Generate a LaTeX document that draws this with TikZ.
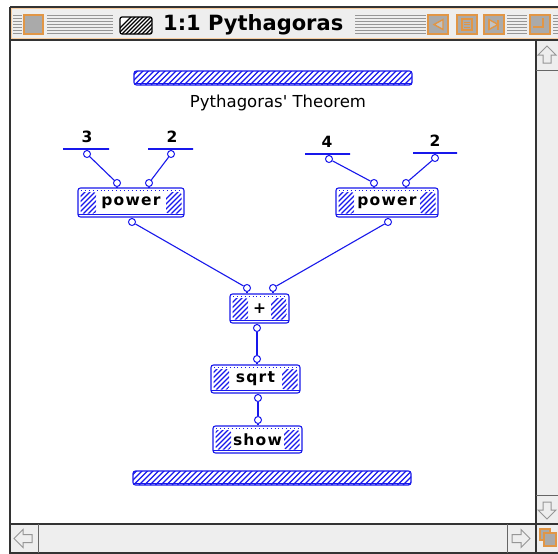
\documentclass[tikz,border=0pt]{standalone}
\usepackage{fontspec}
\setmainfont{DejaVu Sans}
\newfontfamily\boxfont[LetterSpace=8]{DejaVu Sans}
\newfontfamily\genfont[Ligatures=TeXOff]{DejaVu Sans}
\usetikzlibrary{calc}
\definecolor{hblue}{RGB}{24,24,235}
\definecolor{chrome}{RGB}{238,238,238}
\definecolor{macorange}{RGB}{225,150,70}
\definecolor{lightorange}{RGB}{248,205,160}
\definecolor{stripe}{RGB}{150,150,150}
\definecolor{btngray}{RGB}{170,170,170}
\tikzset{
  wire/.style={hblue, line width=1.1pt},
  port/.style={circle, draw=hblue, fill=white, line width=1pt, minimum size=7pt, inner sep=0pt},
  inbar/.style={draw=hblue, line width=1.4pt, minimum width=#1, minimum height=0pt, inner sep=0pt},
  numlbl/.style={font=\boxfont\bfseries\fontsize{15.5}{16}\selectfont, inner sep=0pt},
  opbox/.style={draw=hblue, fill=white, line width=1.1pt, rounded corners=2.5pt,
    minimum width=#1, minimum height=29pt, inner sep=0pt,
    font=\boxfont\bfseries\fontsize{15.5}{16}\selectfont,
    path picture={
      \begin{scope}
        \clip ([shift={(2.5pt,3.5pt)}]path picture bounding box.south west) rectangle ([shift={(18pt,-4pt)}]path picture bounding box.north west);
        \foreach \k in {0,...,9}{\draw[hblue,line width=1.2pt,sharp corners] ([xshift=\k*5pt-28pt]path picture bounding box.south west) -- ++(32pt,32pt);}
      \end{scope}
      \begin{scope}
        \clip ([shift={(-18pt,3.5pt)}]path picture bounding box.south east) rectangle ([shift={(-2.5pt,-4pt)}]path picture bounding box.north east);
        \foreach \k in {0,...,9}{\draw[hblue,line width=1.2pt,sharp corners] ([xshift=\k*5pt-36pt]path picture bounding box.south east) -- ++(32pt,32pt);}
      \end{scope}
      \draw[hblue, line width=0.9pt, dash pattern=on 0.9pt off 3pt, sharp corners] ([shift={(3pt,-2.2pt)}]path picture bounding box.north west) -- ([shift={(-3pt,-2.2pt)}]path picture bounding box.north east);
      \draw[hblue, line width=1.1pt, sharp corners] ([shift={(0pt,2.2pt)}]path picture bounding box.south west) -- ([shift={(0pt,2.2pt)}]path picture bounding box.south east);
    }},
  opbox/.default=90pt,
  hbar/.style={draw=hblue, fill=white, line width=1.1pt, rounded corners=2.5pt,
    minimum width=278pt, minimum height=14pt, inner sep=0pt,
    path picture={
      \foreach \k in {0,...,54}{\draw[hblue,line width=1.2pt,sharp corners] ([xshift=\k*5.5pt-16pt]path picture bounding box.south west) -- ++(18pt,18pt);}
      \draw[hblue, line width=1.3pt, sharp corners] ([shift={(0pt,1.8pt)}]path picture bounding box.south west) -- ([shift={(0pt,1.8pt)}]path picture bounding box.south east);
    }},
  chromebtn/.style={draw=macorange, fill=btngray, line width=1.6pt},
  sbarrow/.style={draw=stripe, fill=chrome, line width=1pt, line join=miter},
  frameline/.style={black!80, line width=1.4pt}
}
\begin{document}
\begin{tikzpicture}[x=1pt,y=-1pt]
\useasboundingbox (0,0) rectangle (558,554);
\fill[white] (0,0) rectangle (558,554);
% ---------- window chrome ----------
\fill[chrome] (10,7) rectangle (558,40);
\draw[lightorange, line width=1.6pt] (11.5,39) -- (11.5,8.5) -- (559,8.5);
\draw[lightorange, line width=1.6pt] (11.5,38.5) -- (559,38.5);
\draw[frameline] (10,7) -- (558,7);
\foreach \yy in {15,18,...,33}{
  \draw[stripe, line width=1pt] (13,\yy) -- (22,\yy) (47,\yy) -- (113,\yy) (355,\yy) -- (426,\yy) (507,\yy) -- (527,\yy) (553,\yy) -- (558,\yy);
}
% close box
\draw[chromebtn] (24,15) rectangle (43,34);
% title icon
\begin{scope}
  \clip[rounded corners=2pt] (120,17) rectangle (152,34);
  \fill[white] (120,17) rectangle (152,34);
  \foreach \k in {0,...,12}{\draw[black, line width=1.1pt] (112+\k*4,36) -- ++(20,-20);}
\end{scope}
\draw[black, line width=1.2pt, rounded corners=2pt] (120,17) rectangle (152,34);
\node[font=\bfseries\fontsize{21}{24}\selectfont, anchor=west, inner sep=0pt] (wintitle) at (163,25) {1:1 Pythagoras};
% title bar buttons
\draw[chromebtn] (428,15) rectangle (448,34);
\draw[macorange, line width=1.4pt, fill=btngray!70] (443,19.5) -- (434,24.5) -- (443,29.5) -- cycle;
\draw[chromebtn] (457,15) rectangle (477,34);
\draw[macorange, line width=1.2pt] (462,19) rectangle (472,30);
\draw[macorange, line width=1pt] (464,22) -- (470,22) (464,24.5) -- (470,24.5) (464,27) -- (470,27);
\draw[chromebtn] (484,15) rectangle (504,34);
\draw[macorange, line width=1.4pt, fill=btngray!70] (489,19.5) -- (498,24.5) -- (489,29.5) -- cycle;
\draw[macorange, line width=1.4pt] (489,19.5) -- (489,29.5) (498,19.5) -- (498,29.5);
\draw[chromebtn] (530,15) rectangle (550,34);
\draw[macorange, line width=1.4pt] (543,18) -- (543,27) -- (533,27);
% content and scroll bars
\fill[chrome] (536,40) rectangle (558,554);
\fill[chrome] (10,524) rectangle (536,554);
\draw[frameline] (10,40) -- (558,40);
\draw[frameline] (10,7) -- (10,554);
\draw[frameline] (536,40) -- (536,554);
\draw[frameline] (10,524) -- (558,524);
\draw[frameline] (10,553) -- (558,553);
\draw[black!60, line width=1pt] (536,70) -- (558,70) (536,495) -- (558,495) (38,524) -- (38,553) (507,524) -- (507,553);
\draw[sbarrow] (547,46) -- (556,55) -- (551,55) -- (551,63) -- (543,63) -- (543,55) -- (538,55) -- cycle;
\draw[sbarrow] (547,519) -- (556,510) -- (551,510) -- (551,502) -- (543,502) -- (543,510) -- (538,510) -- cycle;
\draw[sbarrow] (14,538.5) -- (23,529.5) -- (23,534.5) -- (32,534.5) -- (32,542.5) -- (23,542.5) -- (23,547.5) -- cycle;
\draw[sbarrow] (530,538.5) -- (521,529.5) -- (521,534.5) -- (512,534.5) -- (512,542.5) -- (521,542.5) -- (521,547.5) -- cycle;
\draw[macorange, line width=1.4pt, fill=btngray] (540,529) rectangle (550,540);
\draw[macorange, line width=1.4pt, fill=btngray] (544,533) rectangle (556,546);
% ---------- diagram ----------
\node[hbar] (topbar) at (273,78) {};
\node[font=\genfont\fontsize{16.5}{18}\selectfont, inner sep=0pt] (thm) at (278,103) {Pythagoras' Theorem};
\node[hbar] (botbar) at (272,478) {};
% inputs
\node[inbar=46pt] (in3) at (86,149) {};
\node[numlbl] (t3) at (87,137) {3};
\node[inbar=45pt] (in2a) at (170.5,149) {};
\node[numlbl] (t2a) at (172,137) {2};
\node[inbar=45pt] (in4) at (327.5,154) {};
\node[numlbl] (t4) at (327,142) {4};
\node[inbar=44pt] (in2b) at (435,153) {};
\node[numlbl] (t2b) at (435,141) {2};
% operator boxes
\node[opbox=106pt] (pow1) at (131,202.5) {power};
\node[opbox=102pt] (pow2) at (387,202.5) {power};
\node[opbox=59pt] (plus) at (259.5,308.5) {+};
\node[opbox=89pt, minimum height=28pt] (sqrt) at (255.5,379) {sqrt};
\node[opbox=89pt, minimum height=27pt] (show) at (257.5,439.5) {show};
% ports
\node[port] (p3) at (87,154) {};
\node[port] (p2a) at (171,154) {};
\node[port] (p4) at (329,159) {};
\node[port] (p2b) at (435,158) {};
\node[port] (pw1a) at (117,183) {};
\node[port] (pw1b) at (149,183) {};
\node[port] (pw1o) at (132,222) {};
\node[port] (pw2a) at (374,183) {};
\node[port] (pw2b) at (406,183) {};
\node[port] (pw2o) at (388,222) {};
\node[port] (pla) at (247,288) {};
\node[port] (plb) at (273,288) {};
\node[port] (plo) at (257,328) {};
\node[port] (sqi) at (257,359) {};
\node[port] (sqo) at (258,398) {};
\node[port] (shi) at (258,420) {};
% stubs from ports to their owners
\draw[wire] (p3) -- (p3 |- in3.south);
\draw[wire] (p2a) -- (p2a |- in2a.south);
\draw[wire] (p4) -- (p4 |- in4.south);
\draw[wire] (p2b) -- (p2b |- in2b.south);
\draw[wire] (pw1a) -- (pw1a |- pow1.north);
\draw[wire] (pw1b) -- (pw1b |- pow1.north);
\draw[wire] (pw1o) -- (pw1o |- pow1.south);
\draw[wire] (pw2a) -- (pw2a |- pow2.north);
\draw[wire] (pw2b) -- (pw2b |- pow2.north);
\draw[wire] (pw2o) -- (pw2o |- pow2.south);
\draw[wire] (pla) -- (pla |- plus.north);
\draw[wire] (plb) -- (plb |- plus.north);
\draw[wire] (plo) -- (plo |- plus.south);
\draw[wire] (sqi) -- (sqi |- sqrt.north);
\draw[wire] (sqo) -- (sqo |- sqrt.south);
\draw[wire] (shi) -- (shi |- show.north);
% connections
\draw[wire] (p3) -- (pw1a);
\draw[wire] (p2a) -- (pw1b);
\draw[wire] (p4) -- (pw2a);
\draw[wire] (p2b) -- (pw2b);
\draw[wire] (pw1o) -- (pla);
\draw[wire] (pw2o) -- (plb);
\draw[wire] (plo) -- (sqi);
\draw[wire] (sqo) -- (shi);
\end{tikzpicture}
\end{document}
